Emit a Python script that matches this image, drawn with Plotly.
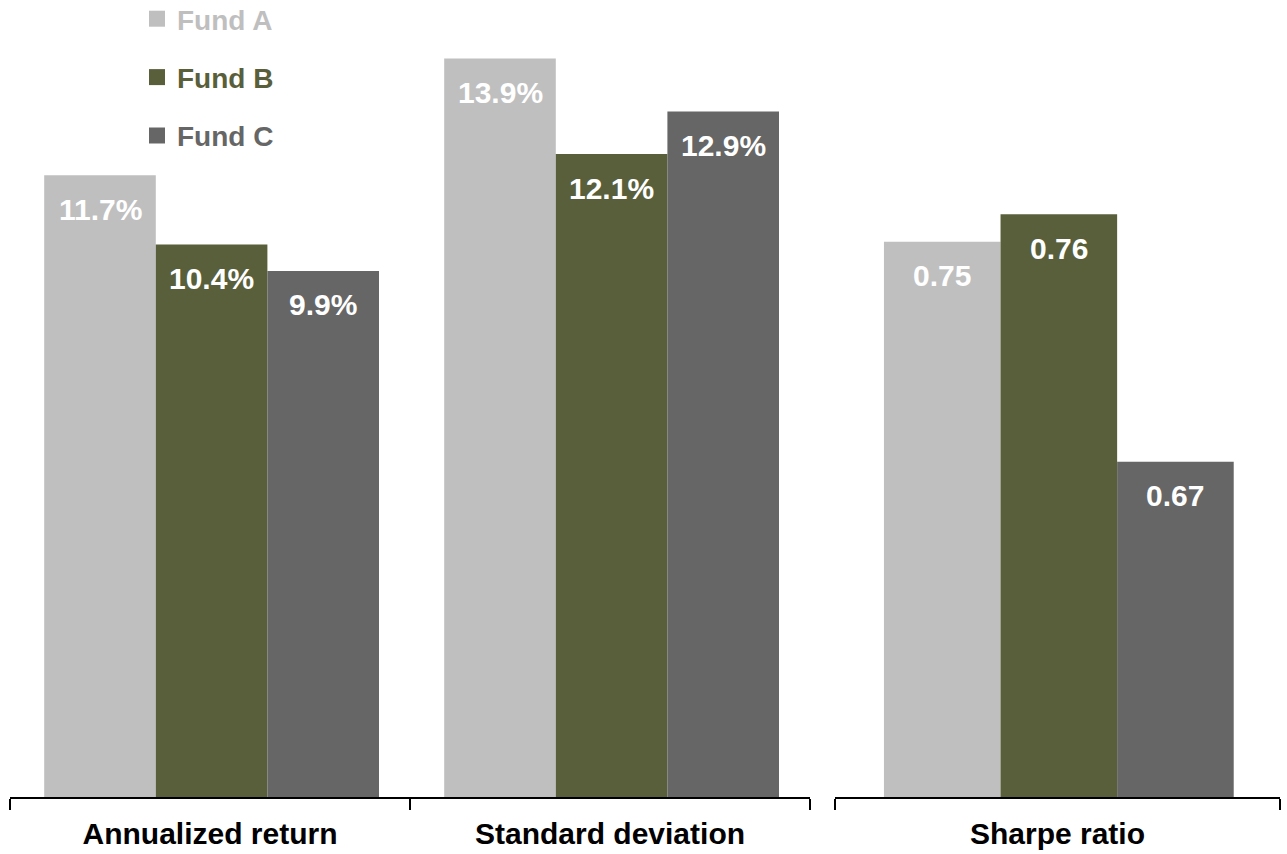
import plotly.graph_objects as go

funds = ["Fund A", "Fund B", "Fund C"]
colors = ["#bfbfbf", "#5a5f3b", "#666666"]
pct_categories = ["Annualized return", "Standard deviation"]
pct_values = {
    "Fund A": [11.7, 13.9],
    "Fund B": [10.4, 12.1],
    "Fund C": [9.9, 12.9],
}
sharpe_categories = ["Sharpe ratio"]
sharpe_values = {
    "Fund A": [0.75],
    "Fund B": [0.76],
    "Fund C": [0.67],
}

W, H = 1287, 854
FONT = "Liberation Sans, Arial, sans-serif"
w1 = 0.279
w2 = 0.262

fig = go.Figure()
annotations = []
for i, (f, c) in enumerate(zip(funds, colors)):
    off1 = (i - 1.5) * w1 + 0.004
    off2 = (i - 1.5) * w2 + 0.003
    fig.add_trace(go.Bar(x=pct_categories, y=pct_values[f], width=w1, offset=off1,
                         marker=dict(color=c, line=dict(width=0)), showlegend=False,
                         xaxis="x", yaxis="y", hoverinfo="skip"))
    fig.add_trace(go.Bar(x=sharpe_categories, y=sharpe_values[f], width=w2, offset=off2,
                         marker=dict(color=c, line=dict(width=0)), showlegend=False,
                         xaxis="x2", yaxis="y2", hoverinfo="skip"))
    # legend entry
    fig.add_trace(go.Scatter(x=[None], y=[None], mode="markers", name=f,
                             marker=dict(symbol="square", size=16, color=c),
                             legendgroup=f))
    for j, v in enumerate(pct_values[f]):
        annotations.append(dict(x=j + off1 + w1 / 2, y=v, xref="x", yref="y",
                                text=f"{v:.1f}%", showarrow=False, yanchor="middle",
                                yshift=-34, font=dict(family=FONT, size=30, color="white")))
    for j, v in enumerate(sharpe_values[f]):
        annotations.append(dict(x=j + off2 + w2 / 2, y=v, xref="x2", yref="y2",
                                text=f"{v:.2f}", showarrow=False, yanchor="middle",
                                yshift=-34, font=dict(family=FONT, size=30, color="white")))

axis_common = dict(type="category", showline=True, linecolor="black", linewidth=2,
                   ticks="outside", tickson="boundaries", ticklen=11, tickwidth=2,
                   tickcolor="black", showgrid=False, zeroline=False,
                   ticklabelstandoff=9,
                   tickfont=dict(family=FONT, size=30, color="black"), fixedrange=True)

fig.update_layout(
    width=W, height=H,
    margin=dict(l=0, r=0, t=0, b=57, autoexpand=False),
    plot_bgcolor="white", paper_bgcolor="white",
    barmode="overlay",
    font=dict(family=FONT),
    xaxis=dict(domain=[10 / W, 810 / W], range=[-0.5, 1.5], **axis_common),
    xaxis2=dict(domain=[835 / W, 1280 / W], range=[-0.5, 0.5], anchor="y2", **axis_common),
    yaxis=dict(range=[0, 15], visible=False, domain=[0, 1], fixedrange=True),
    yaxis2=dict(range=[0.548, 0.838], visible=False, domain=[0, 1], anchor="x2", fixedrange=True),
    legend=dict(x=137 / W, xanchor="left", y=1.0 + 6 / 797, yanchor="top",
                font=dict(family=FONT, size=28), itemsizing="trace",
                tracegroupgap=19, bgcolor="rgba(0,0,0,0)"),
    annotations=annotations,
    showlegend=True,
)

# colour legend texts like the reference
for tr in fig.data:
    if tr.type == "scatter":
        col = tr.marker.color
        tr.name = f"<b><span style='color:{col}'>{tr.name}</span></b>"

for a in fig.layout.annotations:
    a.text = f"<b>{a.text}</b>"

fig.update_xaxes(tickprefix="<b>", ticksuffix="</b>")

fig.write_html("out.html")
